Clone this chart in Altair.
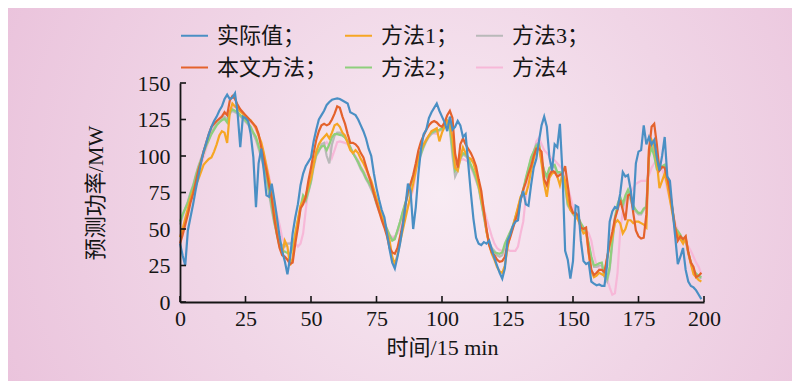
import altair as alt
import pandas as pd

time_steps = list(range(200))

actual = [
    40, 32, 25, 49, 58, 67, 77, 86, 95, 103,
    109, 115, 120, 124, 127, 131, 134, 139, 142, 139,
    140, 143, 129, 106, 127, 126, 124, 115, 99, 65,
    95, 105, 90, 73, 72, 81, 70, 58, 45, 35,
    28, 19, 30, 47, 58, 67, 80, 88, 93, 96,
    99, 110, 118, 125, 128, 131, 135, 137, 138.5, 139,
    139.5, 139, 138, 137, 136, 130, 129, 128, 125, 121,
    117, 112, 105, 100, 88, 78, 70, 63, 58, 47,
    36, 27, 23, 31, 40, 52, 65, 81, 76, 50,
    65, 88, 105, 115, 118, 126, 130, 133, 136, 131,
    127, 123, 117, 127, 118, 120, 124, 121, 113, 115,
    95, 75, 57, 44, 40, 39, 41, 40, 42, 36,
    30, 25, 20, 16, 23, 42, 46, 52, 55, 56,
    70, 76, 67, 66, 80, 92, 98, 110, 121, 127,
    120, 99, 90, 108, 106, 122, 88, 35, 29, 16,
    28, 66, 65, 42, 28, 26, 27, 14, 12.6, 11.5,
    12, 11, 11, 25, 55, 62, 65, 64, 74, 89,
    86, 87, 77, 63, 95, 103, 104, 121, 108, 113,
    108, 111, 99, 90, 100, 113, 86, 83, 63, 45,
    26, 31, 37, 22, 14, 11, 10, 8, 5, 2,
]

proposed = [
    40, 46, 53, 60, 68, 74, 82, 90, 96, 103,
    109, 115, 120, 122, 124, 125.5, 127, 130, 128, 138,
    141, 139, 135, 132, 130, 128, 126, 124, 122, 120,
    115, 106, 98, 90, 80, 71, 57, 46, 37, 32,
    31, 29, 26, 27, 40, 51, 64, 67, 72, 83,
    92, 102, 111, 117, 121, 122, 121, 122, 125, 129,
    134, 133, 127, 122, 115, 109, 109, 108, 106, 102,
    99, 93, 87, 81, 74, 68, 62, 56, 51, 45,
    37, 34, 33, 37, 45, 53, 66, 76, 81, 87,
    95, 104, 110, 114, 118, 121, 123, 124, 123, 121,
    120, 123, 128, 131, 126, 102, 92, 108, 112, 108,
    105, 102, 98, 93, 84, 76, 62, 50, 39, 34,
    32, 29, 27.5, 28, 31, 39, 44, 50, 56, 61,
    70, 77, 82, 88, 93, 100, 105, 105, 103, 84,
    80, 87, 90, 89, 86, 87, 88, 93, 80, 66,
    61, 61, 59, 51, 50, 51, 34, 22, 18.5, 20,
    22, 22, 20.5, 30, 40, 48, 57, 63, 70, 63,
    56, 73, 74, 61, 49, 45, 43.5, 44, 60, 104,
    120, 122, 108, 90, 92.5, 92, 85, 76, 63, 51,
    42, 45, 43, 45, 34, 27, 24, 17, 18, 20,
]

method1 = [
    44.5, 50, 57, 64, 71, 76, 80, 84, 89, 94,
    96, 98, 99, 103, 108, 114, 117, 116, 109, 130,
    136, 134, 132.5, 130.5, 129, 127, 125.5, 124.5, 122, 119,
    114, 109.5, 102, 93, 84, 74, 62, 53, 42, 33,
    42, 38, 25, 30, 46, 56, 66, 69, 73, 79,
    85, 94, 103, 108, 111, 113, 115, 112, 116, 121,
    122, 120, 116, 114, 109, 104, 102, 104, 102, 98,
    95, 91, 87, 83, 77, 71, 65, 59, 54, 48,
    42, 31, 26, 32, 41, 49, 57, 65, 73, 81,
    90, 100, 104, 108, 111, 114, 117, 118, 119, 110,
    116, 120, 124, 122, 112, 92, 90, 99, 106, 102,
    99, 98, 95, 89, 81, 71, 62, 48, 39, 33,
    29, 24, 21, 20, 25, 37, 46, 51, 58, 65,
    72, 74, 74, 80, 90, 98, 105, 107, 95, 81,
    72, 85, 88, 89, 86, 80, 88, 83, 70, 63,
    61, 59, 56, 51, 47, 48, 33, 21, 17, 18,
    20, 19, 18, 30, 39, 45, 54, 56, 54, 47,
    50, 56, 56, 54, 55, 55, 54, 53, 51, 105,
    111, 107, 96, 78, 83, 88, 80, 70, 60, 50,
    46, 43, 40, 44, 34, 26, 19, 17, 15, 14,
]

method2 = [
    55, 60, 64, 68, 74, 79, 86, 92, 97, 102,
    107, 111, 115, 118, 121, 123, 124.5, 125.5, 123, 130,
    132, 131, 130, 128, 126.5, 124.5, 122.5, 120, 116, 113,
    107, 101, 94, 87, 76, 66, 55, 46, 38, 35,
    34.5, 33.5, 33, 37, 47, 56, 65, 73, 70, 76,
    83, 94, 101, 104, 106.5, 107, 104, 108, 113, 115,
    115, 114.5, 114, 112.5, 110, 106, 102, 99, 96, 92,
    89, 85, 82, 79, 74, 68, 64, 59, 55, 50,
    46, 42, 43, 49, 55, 62, 68, 74, 80, 86,
    92, 97, 102, 107, 111, 114, 116, 117, 117.5, 118,
    119, 121, 124, 119, 105, 90, 92, 99, 102, 101,
    99, 94, 90, 85, 79, 69, 59, 49, 40, 36,
    34, 33.5, 33, 34, 40, 44, 48, 52, 58, 64,
    71, 77, 85, 92, 99, 103, 107, 108, 97, 90,
    86, 92, 93, 94, 89, 89, 88, 80, 67, 64,
    60.5, 59, 58, 54, 51, 48, 40, 31, 25, 25.5,
    26.5, 27, 18, 16, 24, 42, 58, 67, 72, 67,
    73, 77, 72, 66, 63, 61, 61, 64, 65, 99,
    106, 100, 91, 92, 93, 94, 85, 73, 63, 51,
    48.5, 46, 42, 43, 34, 27, 22, 19.5, 18, 17,
]

method3 = [
    53, 59, 64, 69, 75, 80, 87, 93, 98, 103,
    108, 112, 116, 119, 122, 124, 126, 127, 125, 129,
    131, 130, 129, 127, 125.5, 123.5, 121.5, 119, 115, 111,
    105, 99, 92, 85, 74, 63, 54, 47, 41, 39,
    38, 40, 40, 41, 44, 53, 64, 72, 69, 75,
    82, 92, 100, 103, 108, 109, 100, 95, 108, 114,
    116, 116, 115, 113, 110, 106, 102, 99, 95, 91,
    88, 84, 81, 77, 73, 67, 62, 58, 54, 49,
    45, 43, 44, 49, 55, 61, 67, 73, 79, 85,
    91, 96, 101, 106, 110, 113, 115, 116, 117, 117.5,
    118, 120, 123, 118, 100, 86, 90, 98, 101, 100,
    98, 93, 89, 84, 78, 68, 58, 48, 41, 37,
    35, 32, 31, 32, 38, 43, 47, 51, 57, 63,
    70, 76, 84, 91, 98, 103, 108, 109, 96, 89,
    85, 91, 92, 93, 88, 88, 87, 79, 66, 63,
    60, 58, 57, 53, 50, 47, 39, 30, 24, 24,
    25, 25, 17, 14, 22, 40, 56, 65, 70, 65,
    71, 75, 70, 64, 62, 60, 60, 63, 66, 100,
    110, 102, 92, 91, 92, 93, 84, 72, 62, 50,
    47, 45, 41, 42, 33, 26, 21, 19, 17, 16,
]

method4 = [
    45, 51, 57, 63, 69, 75, 81, 87, 93, 99,
    105, 111, 116, 120, 123, 126, 128, 129, 130, 131,
    133, 134, 133, 131, 129, 127, 125, 123, 121, 118,
    114, 108, 101, 94, 86, 76, 68, 60, 53, 44,
    40, 40, 40.5, 41, 40, 38, 40, 47, 63, 78,
    88, 95, 101, 104, 106, 108, 109.5, 107, 99, 104,
    109.5, 110, 109.5, 109, 108, 105, 102.5, 100, 97, 93,
    90, 87, 84, 79, 74, 69, 64, 59, 54, 50,
    46, 44.5, 45, 47, 51, 56, 61, 65, 71, 77,
    88, 99, 104, 108, 112, 114, 116, 115.5, 115, 117,
    120, 121, 122, 119, 114, 100, 97, 97, 98, 97,
    96, 92, 88, 83, 78, 72, 64, 57, 51, 45,
    40, 37, 35.5, 35, 36, 36, 35, 35, 35, 38,
    47, 55, 72, 88, 97, 102, 110, 112.5, 108, 104,
    102, 100, 98, 97, 95, 93, 91, 85, 79, 72,
    65, 60, 56, 53, 51, 49, 47, 42, 32, 25,
    23, 22, 20, 16, 10, 5, 6, 20, 48, 62,
    67, 72, 75, 78, 81, 82, 83, 83, 83, 87,
    92, 95, 97, 95, 91, 86, 77, 70, 62, 54,
    49, 45, 42, 40, 38, 35, 31, 27, 24, 19,
]

legend_names = ["实际值", "方法1", "方法3", "本文方法", "方法2", "方法4"]
legend_colors = ["#4a8fc4", "#f6a623", "#b9b9b9", "#e4622c", "#8ecf7c", "#f7b8d8"]

series_values = {
    "实际值": actual,
    "本文方法": proposed,
    "方法1": method1,
    "方法2": method2,
    "方法3": method3,
    "方法4": method4,
}
draw_order = ["方法4", "方法3", "方法2", "方法1", "本文方法", "实际值"]

x_ticks = [0, 25, 50, 75, 100, 125, 150, 175, 200]
y_ticks = [0, 25, 50, 75, 100, 125, 150]

FONT = "Liberation Serif, Noto Sans CJK SC"
INK = "#151515"

rows = []
for name, vals in series_values.items():
    for t, v in zip(time_steps, vals):
        rows.append({"t": t, "power": v, "series": name})
df = pd.DataFrame(rows)

xs = alt.Scale(domain=[0, 200], nice=False, zero=False)
ys = alt.Scale(domain=[0, 150], nice=False, zero=False)

x_axis = alt.Axis(
    values=x_ticks, title="时间/15 min", ticks=False, grid=False, zindex=1,
    labelFont=FONT, labelFontSize=22, labelColor=INK, labelPadding=6,
    labelFlush=False, labelOverlap=False,
    titleFont=FONT, titleFontSize=22, titleFontWeight="normal", titleColor=INK,
    titlePadding=8, domainColor=INK, domainWidth=1.8,
)
y_axis = alt.Axis(
    values=y_ticks, title="预测功率/MW", ticks=False, grid=False, zindex=1,
    labelFont=FONT, labelFontSize=22, labelColor=INK, labelPadding=10,
    labelFlush=False, labelOverlap=False,
    titleFont=FONT, titleFontSize=22, titleFontWeight="normal", titleColor=INK,
    titlePadding=30, domainColor=INK, domainWidth=1.8,
)

X_ENC = alt.X("t:Q", scale=xs, axis=x_axis)
Y_ENC = alt.Y("power:Q", scale=ys, axis=y_axis)

color_enc = alt.Color(
    "series:N",
    scale=alt.Scale(domain=legend_names, range=legend_colors),
    legend=alt.Legend(
        title=None, orient="none", legendX=0, legendY=-62,
        direction="horizontal", columns=3,
        symbolType="stroke", symbolSize=729, symbolStrokeWidth=2,
        labelFont=FONT, labelFontSize=22, labelColor=INK, labelOffset=8,
        columnPadding=13, rowPadding=6, labelLimit=300,
        labelExpr="datum.label == '方法4' ? datum.label : datum.label + '；'",
    ),
)

bg = alt.Chart(alt.Data(values=[{"k": 1}])).mark_rect(
    fill=alt.Gradient(
        gradient="radial",
        stops=[
            alt.GradientStop(color="#f8ebf3", offset=0),
            alt.GradientStop(color="#f0d5e6", offset=0.45),
            alt.GradientStop(color="#e8bcd8", offset=1),
        ],
        x1=0.55, y1=0.5, x2=0.55, y2=0.5, r1=0, r2=0.72,
    ),
    strokeWidth=0,
).encode(
    x=alt.value(-172), x2=alt.value(612), y=alt.value(-75), y2=alt.value(298)
)

xtick_df = pd.DataFrame({"t": x_ticks})
ytick_df = pd.DataFrame({"power": y_ticks})

xtick_layer = alt.Chart(xtick_df).mark_rule(color=INK, strokeWidth=1.6).encode(
    x=X_ENC, y=alt.value(219), y2=alt.value(213)
)
ytick_layer = alt.Chart(ytick_df).mark_rule(color=INK, strokeWidth=1.6).encode(
    y=Y_ENC, x=alt.value(0), x2=alt.value(6)
)

line_layers = []
for name in draw_order:
    line_layers.append(
        alt.Chart(df[df.series == name]).mark_line(strokeWidth=2.2).encode(
            x=X_ENC, y=Y_ENC, color=color_enc
        )
    )

chart = alt.layer(bg, *line_layers, xtick_layer, ytick_layer).properties(
    width=524,
    height=219,
    autosize=alt.AutoSizeParams(type="none"),
    padding={"left": 172, "top": 75, "right": 88, "bottom": 79},
    background="#e8bcd8",
).configure_view(stroke=None)

chart.save("out.html", embed_options={"renderer": "svg", "actions": False})
